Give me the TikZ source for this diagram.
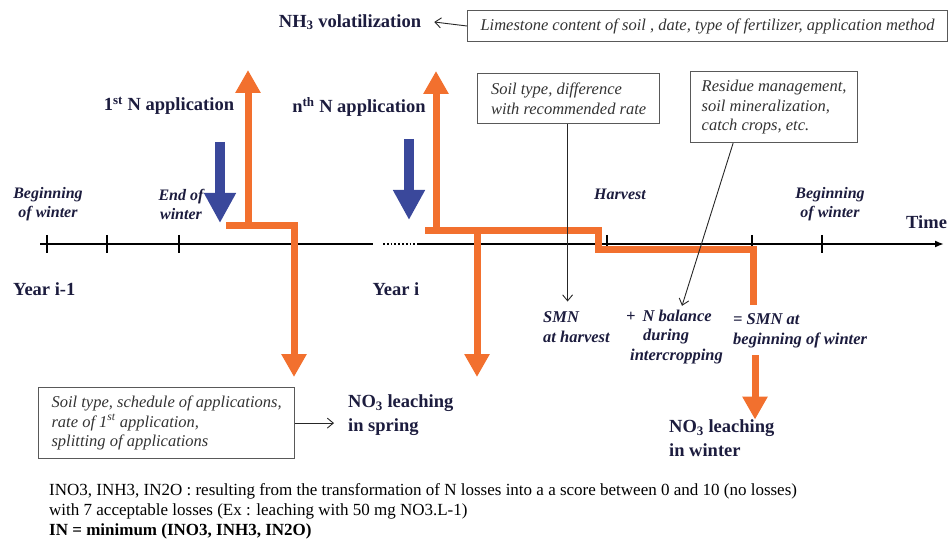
\documentclass[tikz,border=0pt]{standalone}
\usepackage{fontspec}
\setmainfont{Liberation Serif}
\usetikzlibrary{positioning,arrows.meta}

\definecolor{ink}{RGB}{28,28,62}
\definecolor{lossorange}{RGB}{242,112,46}
\definecolor{applblue}{RGB}{58,72,155}

\begin{document}
\begin{tikzpicture}[x=1pt, y=-1pt,
  head/.style={font=\fontsize{18.5}{23.5}\selectfont\bfseries, text=ink, align=left, inner sep=0pt},
  date/.style={font=\fontsize{16}{19}\selectfont\bfseries\itshape, text=ink, align=center, inner sep=0pt},
  term/.style={font=\fontsize{16.5}{19.5}\selectfont\bfseries\itshape, text=ink, align=left, inner sep=0pt},
  factor/.style={draw=black!65, line width=1.2pt, font=\fontsize{16.5}{19.5}\selectfont\itshape, text=black!80, align=left, inner xsep=10pt, inner ysep=5pt},
  lossline/.style={lossorange, line width=7pt},
  loss/.style={lossline, -{Triangle[length=23pt,width=24pt]}},
  appl/.style={applblue, line width=10pt, -{Triangle[length=30pt,width=30pt]}},
  cause/.style={black!85, line width=0.9pt, -{Straight Barb[length=6pt,width=10pt]}}
]
  \useasboundingbox (0,0) rectangle (948,540);

  % time axis
  \draw[line width=1.8pt] (40,244) -- (373,244);
  \draw[line width=1.8pt, dotted] (383,244) -- (415,244);
  \draw[line width=1.8pt, -{Latex[length=9pt,width=7pt]}] (417,244) -- (944,244);
  \foreach \x in {47,107,179,607,752,822}
    \draw[line width=1.3pt] (\x,235) -- (\x,253);

  \node[date] (bw1) at (48,204) {Beginning\\of winter};
  \node[date] (ew) at (181,204) {End of\\winter};
  \node[date] (harvest) at (620,194) {Harvest};
  \node[date] (bw2) at (830,204) {Beginning\\of winter};
  \node[head, anchor=west] (time) at (906,222) {Time};
  \node[head, anchor=west] (yr1) at (13,289) {Year i-1};
  \node[head] (yri) at (396,289) {Year i};

  % applications and losses
  \node[head] (app1) at (169,106) {1\textsuperscript{st} N application};
  \node[head] (appn) at (359,107) {n\textsuperscript{th} N application};
  \node[head] (nh3) at (350,22) {NH\textsubscript{3} volatilization};
  \node[head, anchor=west] (nospring) at (348,415) {NO\textsubscript{3} leaching\\in spring};
  \node[head, anchor=west] (nowinter) at (669,438) {NO\textsubscript{3} leaching\\in winter};

  \coordinate (volat1) at (248,70);
  \coordinate (volat2) at (436,71);
  \coordinate (leach1) at (294,377);
  \coordinate (leach2) at (477,377);
  \coordinate (leach3) at (755,355);

  \draw[appl] (220,142) -- (220,223);
  \draw[appl] (409,139) -- (409,220);
  \draw[loss] (226,226) -- (leach1 |- 0,226) -- (leach1);
  \draw[loss] (volat1 |- 0,226) -- (volat1);
  \draw[lossline] (425,231) -- (598,231) -- (598,250) -- (753,250) -- (753,305);
  \draw[loss] (volat2 |- 0,231) -- (volat2);
  \draw[loss] (leach2 |- 0,231) -- (leach2);
  \draw[loss] (leach3) -- (nowinter.north -| leach3);

  % soil mineral N balance
  \node[term, anchor=west] (smnh) at (543,327) {SMN\\at harvest};
  \node[term, anchor=west] (nbal) at (626,337) {+\hspace{7pt}N balance\\\hspace{17pt}during\\\hspace{4pt}intercropping};
  \node[term, anchor=west] (smnw) at (733,331) {= SMN at\\beginning of winter};

  % driving factors
  \node[factor, anchor=west, minimum height=31pt, minimum width=480pt] (limebox) at (467,26) {Limestone content of soil , date, type of fertilizer, application method};
  \node[factor, anchor=north west, minimum height=50pt, minimum width=182pt] (soilbox) at (477,73) {Soil type, difference\\with recommended rate};
  \node[factor, anchor=north west, minimum height=71pt, minimum width=167pt] (resbox) at (690,71) {Residue management,\\soil mineralization,\\catch crops, etc.};
  \node[factor, anchor=north west, minimum height=71pt, minimum width=256pt] (schedbox) at (38,387) {Soil type, schedule of applications,\\rate of 1\textsuperscript{st} application,\\splitting of applications};

  \draw[cause] (limebox.west) -- ([xshift=13pt]nh3.east);
  \draw[cause] (schedbox.east) -- ([xshift=-14pt]nospring.west |- schedbox.east);
  \draw[cause] ([xshift=-1pt]soilbox.south) -- ([xshift=-1pt, yshift=10pt]soilbox.south |- smnh.north);
  \draw[cause] ([xshift=-41pt]resbox.south) -- ([yshift=4pt]nbal.north -| 682,0);

  \node[anchor=north west, align=left, inner sep=0pt, font=\fontsize{17}{20}\selectfont] (score) at (49,483)
    {INO3, INH3, IN2O : resulting from the transformation of N losses into a a score between 0 and 10 (no losses)\\
     with 7 acceptable losses (Ex : leaching with 50 mg NO3.L-1)\\
     \textbf{IN = minimum (INO3, INH3, IN2O)}};
\end{tikzpicture}
\end{document}
